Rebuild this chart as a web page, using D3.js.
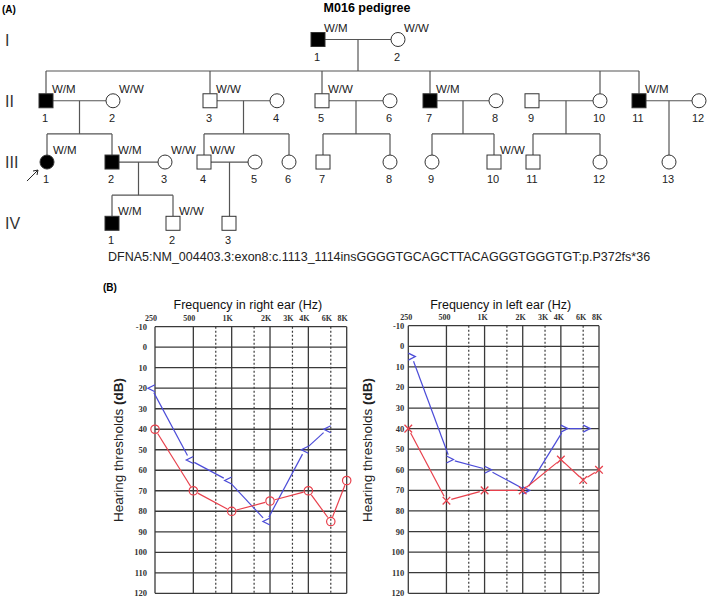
<!DOCTYPE html>
<html><head><meta charset="utf-8">
<script src="https://cdn.jsdelivr.net/npm/d3@7"></script>
<style>body{margin:0;background:#fff}svg{display:block}</style>
</head><body>
<svg id="c" width="709" height="602"></svg>
<script>
// ---------------- DATA ----------------
// Pedigree individuals: generation, number, sex, affected, genotype
const gen1 = [
  {id:"I-1", n:"1", sex:"M", aff:true,  gt:"W/M"},
  {id:"I-2", n:"2", sex:"F", aff:false, gt:"W/W"}
];
const gen2 = [
  {id:"II-1", n:"1", sex:"M", aff:true,  gt:"W/M"},
  {id:"II-2", n:"2", sex:"F", aff:false, gt:"W/W"},
  {id:"II-3", n:"3", sex:"M", aff:false, gt:"W/W"},
  {id:"II-4", n:"4", sex:"F", aff:false, gt:""},
  {id:"II-5", n:"5", sex:"M", aff:false, gt:"W/W"},
  {id:"II-6", n:"6", sex:"F", aff:false, gt:""},
  {id:"II-7", n:"7", sex:"M", aff:true,  gt:"W/M"},
  {id:"II-8", n:"8", sex:"F", aff:false, gt:""},
  {id:"II-9", n:"9", sex:"M", aff:false, gt:""},
  {id:"II-10", n:"10", sex:"F", aff:false, gt:""},
  {id:"II-11", n:"11", sex:"M", aff:true,  gt:"W/M"},
  {id:"II-12", n:"12", sex:"F", aff:false, gt:""}
];
const gen3 = [
  {id:"III-1", n:"1", sex:"F", aff:true,  gt:"W/M", proband:true},
  {id:"III-2", n:"2", sex:"M", aff:true,  gt:"W/M"},
  {id:"III-3", n:"3", sex:"F", aff:false, gt:"W/W"},
  {id:"III-4", n:"4", sex:"M", aff:false, gt:"W/W"},
  {id:"III-5", n:"5", sex:"F", aff:false, gt:""},
  {id:"III-6", n:"6", sex:"F", aff:false, gt:""},
  {id:"III-7", n:"7", sex:"M", aff:false, gt:""},
  {id:"III-8", n:"8", sex:"F", aff:false, gt:""},
  {id:"III-9", n:"9", sex:"F", aff:false, gt:""},
  {id:"III-10", n:"10", sex:"M", aff:false, gt:"W/W"},
  {id:"III-11", n:"11", sex:"M", aff:false, gt:""},
  {id:"III-12", n:"12", sex:"F", aff:false, gt:""},
  {id:"III-13", n:"13", sex:"F", aff:false, gt:""}
];
const gen4 = [
  {id:"IV-1", n:"1", sex:"M", aff:true,  gt:"W/M"},
  {id:"IV-2", n:"2", sex:"M", aff:false, gt:"W/W"},
  {id:"IV-3", n:"3", sex:"M", aff:false, gt:""}
];
// couples and their children
const couples = [
  {a:"I-1",  b:"I-2",  kids:["II-1","II-3","II-5","II-7","II-10","II-11"]},
  {a:"II-1", b:"II-2", kids:["III-1","III-2"]},
  {a:"II-3", b:"II-4", kids:["III-4","III-6"]},
  {a:"II-5", b:"II-6", kids:["III-7","III-8"]},
  {a:"II-7", b:"II-8", kids:["III-9","III-10"]},
  {a:"II-9", b:"II-10", kids:["III-11","III-12"]},
  {a:"II-11", b:"II-12", kids:["III-13"]},
  {a:"III-2", b:"III-3", kids:["IV-1","IV-2"]},
  {a:"III-4", b:"III-5", kids:["IV-3"]}
];
const genNames = ["I","II","III","IV"];
const mutation = "DFNA5:NM_004403.3:exon8:c.1113_1114insGGGGTGCAGCTTACAGGGTGGGTGT:p.P372fs*36";

// Audiogram data
const freqTicks = [250,500,1000,2000,3000,4000,6000,8000];
const freqTickLabels = ["250","500","1K","2K","3K","4K","6K","8K"];
const solidFreqs = [250,500,1000,2000,4000,8000];
const dottedFreqs = [750,1500,3000,6000];
const dbTicks = [-10,0,10,20,30,40,50,60,70,80,90,100,110,120];

const rightAirFreqs  = [250,500,1000,2000,4000,6000,8000];
const rightAir       = [40,70,80,75,70,85,65];
const rightBoneFreqs = [250,500,1000,2000,4000,6000];
const rightBone      = [20,55,65,85,50,40];
const leftAirFreqs   = [250,500,1000,2000,4000,6000,8000];
const leftAir        = [40,75,70,70,55,65,60];
const leftBoneFreqs  = [250,500,1000,2000,4000,6000];
const leftBone       = [5,55,60,70,40,40];

// ---------------- LAYOUT ----------------
const svg = d3.select("#c");
const SANS = "'Liberation Sans', Arial, sans-serif";
const SERIF = "'Liberation Serif', 'Times New Roman', serif";

// pedigree horizontal positions (layout, px)
const posX = {
 "I-1":318,"I-2":398,
 "II-1":46,"II-2":113,"II-3":210,"II-4":277,"II-5":322,"II-6":390,"II-7":430,"II-8":496,
 "II-9":532,"II-10":600,"II-11":639,"II-12":699,
 "III-1":47,"III-2":112,"III-3":165,"III-4":204,"III-5":255,"III-6":289,"III-7":323,
 "III-8":390,"III-9":432,"III-10":494,"III-11":533,"III-12":600,"III-13":669,
 "IV-1":112,"IV-2":173,"IV-3":229
};
const genY = d3.scalePoint().domain(genNames).range([39.5, 223.3]);
const gens = [gen1,gen2,gen3,gen4];
const people = {};
gens.forEach((g,i)=>g.forEach(p=>{p.x=posX[p.id]; p.y=genY(genNames[i]); people[p.id]=p;}));
const H = 7; // half size of symbol

const ped = svg.append("g");
const lineCol = "#555";
function ln(x1,y1,x2,y2){ped.append("line").attr("x1",x1).attr("y1",y1).attr("x2",x2).attr("y2",y2)
  .attr("stroke",lineCol).attr("stroke-width",1.2);}

couples.forEach(c=>{
  const A=people[c.a], B=people[c.b];
  ln(A.x+H, A.y, B.x-H, B.y);
  const mx=(A.x+B.x)/2;
  const kids=c.kids.map(k=>people[k]);
  const ky=kids[0].y;
  if(kids.length===1){
    ln(mx, A.y, mx, ky-H);
  } else {
    const sy = (A.y + ky)/2 + (A.id==="I-1"? 0 : 0);
    const sibY = A.id==="I-1" ? 71 : (A.y + ky)/2 + 2.5;
    ln(mx, A.y, mx, sibY);
    const xs=kids.map(k=>k.x);
    ln(Math.min(...xs), sibY, Math.max(...xs), sibY);
    kids.forEach(k=>ln(k.x, sibY, k.x, k.y-H));
  }
});

Object.values(people).forEach(p=>{
  const fill = p.aff ? "#000" : "#fff";
  if(p.sex==="M"){
    ped.append("rect").attr("x",p.x-H).attr("y",p.y-H).attr("width",2*H).attr("height",2*H)
      .attr("fill",fill).attr("stroke","#333").attr("stroke-width",1);
  } else {
    ped.append("circle").attr("cx",p.x).attr("cy",p.y).attr("r",H)
      .attr("fill",fill).attr("stroke","#333").attr("stroke-width",1);
  }
  ped.append("text").attr("x",p.x-1).attr("y",p.y+21).attr("text-anchor","middle")
    .attr("font-family",SANS).attr("font-size",11).attr("fill","#222").text(p.n);
  if(p.gt){
    ped.append("text").attr("x",p.x+6).attr("y",p.y-8)
      .attr("font-family",SANS).attr("font-size",11.5).attr("fill","#222").text(p.gt);
  }
  if(p.proband){
    ped.append("line").attr("x1",p.x-20).attr("y1",p.y+19).attr("x2",p.x-9).attr("y2",p.y+8)
      .attr("stroke","#222").attr("stroke-width",1);
    ped.append("path").attr("d",`M${p.x-9},${p.y+8} l-5,1 M${p.x-9},${p.y+8} l-1,5`)
      .attr("stroke","#222").attr("stroke-width",1).attr("fill","none");
  }
});
genNames.forEach(g=>{
  ped.append("text").attr("x",5).attr("y",genY(g)+6).attr("font-family",SANS)
    .attr("font-size",16).attr("fill","#333").text(g);
});
svg.append("text").attr("x",2).attr("y",13).attr("font-family",SANS).attr("font-weight","bold")
  .attr("font-size",10).text("(A)");
svg.append("text").attr("x",367).attr("y",12).attr("text-anchor","middle").attr("font-family",SANS)
  .attr("font-weight","bold").attr("font-size",12.5).text("M016 pedigree");
svg.append("text").attr("x",108).attr("y",261).attr("font-family",SANS).attr("font-size",12.5)
  .attr("fill","#222").text(mutation);
svg.append("text").attr("x",103).attr("y",291).attr("font-family",SANS).attr("font-weight","bold")
  .attr("font-size",10).text("(B)");

// ---------------- AUDIOGRAMS ----------------
const RED="#e8404c", BLUE="#4c4cd8";
function audiogram(cfg){
  const g = svg.append("g");
  const x = d3.scaleLog().base(2).domain([250,8000]).range([cfg.x0,cfg.x1]);
  const y = d3.scaleLinear().domain([-10,120]).range([cfg.y0,cfg.y1]);
  const gc="#3a3a3a";
  dbTicks.forEach(d=>g.append("line").attr("x1",cfg.x0).attr("x2",cfg.x1).attr("y1",y(d)).attr("y2",y(d))
    .attr("stroke",gc).attr("stroke-width",1.3));
  solidFreqs.forEach(f=>g.append("line").attr("x1",x(f)).attr("x2",x(f)).attr("y1",cfg.y0).attr("y2",cfg.y1)
    .attr("stroke",gc).attr("stroke-width",1.3));
  dottedFreqs.forEach(f=>g.append("line").attr("x1",x(f)).attr("x2",x(f)).attr("y1",cfg.y0).attr("y2",cfg.y1)
    .attr("stroke",gc).attr("stroke-width",1.2).attr("stroke-dasharray","2,2"));
  freqTicks.forEach((f,i)=>g.append("text").attr("x",x(f)+cfg.labDx).attr("y",cfg.y0-6)
    .attr("text-anchor","middle").attr("font-family",SERIF).attr("font-weight","bold")
    .attr("font-size",8).attr("fill","#333").text(freqTickLabels[i]));
  dbTicks.forEach(d=>g.append("text").attr("x",cfg.x0-cfg.ylabGap).attr("y",y(d)+3)
    .attr("text-anchor","end").attr("font-family",SERIF).attr("font-weight","bold")
    .attr("font-size",8.5).attr("fill","#333").text(d));
  g.append("text").attr("x",(cfg.x0+cfg.x1)/2 - 3).attr("y",309).attr("text-anchor","middle")
    .attr("font-family",SANS).attr("font-size",12.5).attr("fill","#111").text(cfg.title);
  const yt = g.append("text").attr("transform",`translate(${cfg.ytx},450) rotate(-90)`)
    .attr("text-anchor","middle").attr("font-family",SANS).attr("font-size",13.5).attr("fill","#222");
  yt.append("tspan").text("Hearing thresholds ");
  yt.append("tspan").attr("font-weight","bold").text("(dB)");

  function seg(pts, color, gap){
    for(let i=0;i<pts.length-1;i++){
      const [ax,ay]=pts[i],[bx,by]=pts[i+1];
      const L=Math.hypot(bx-ax,by-ay), ux=(bx-ax)/L, uy=(by-ay)/L;
      g.append("line").attr("x1",ax+ux*gap).attr("y1",ay+uy*gap).attr("x2",bx-ux*gap).attr("y2",by-uy*gap)
        .attr("stroke",color).attr("stroke-width",1.2);
    }
  }
  // bone conduction (blue brackets)
  const dir = cfg.boneDir; // -1 for "<", +1 for ">"
  const bpts = cfg.boneF.map((f,i)=>[x(f)+dir*3.5, y(cfg.bone[i])]);
  seg(bpts, BLUE, 5);
  cfg.boneF.forEach((f,i)=>{
    const fx=x(f), fy=y(cfg.bone[i]);
    const tip = fx + dir*7;
    g.append("path").attr("d",`M${fx},${fy-3.5} L${tip},${fy} L${fx},${fy+3.5}`)
      .attr("fill","none").attr("stroke",BLUE).attr("stroke-width",1.3);
  });
  // air conduction (red)
  const apts = cfg.airF.map((f,i)=>[x(f), y(cfg.air[i])]);
  seg(apts, RED, 5);
  cfg.airF.forEach((f,i)=>{
    const fx=x(f), fy=y(cfg.air[i]);
    if(cfg.airMark==="O"){
      g.append("circle").attr("cx",fx).attr("cy",fy).attr("r",4.2)
        .attr("fill","none").attr("stroke",RED).attr("stroke-width",1.2);
    } else {
      g.append("path").attr("d",`M${fx-3.8},${fy-3.8} L${fx+3.8},${fy+3.8} M${fx-3.8},${fy+3.8} L${fx+3.8},${fy-3.8}`)
        .attr("stroke",RED).attr("stroke-width",1.3);
    }
  });
}
audiogram({x0:155,x1:346.7,y0:326.7,y1:593.3,labDx:-4,ylabGap:8,ytx:123,
  title:"Frequency in right ear (Hz)", boneF:rightBoneFreqs, bone:rightBone, boneDir:-1,
  airF:rightAirFreqs, air:rightAir, airMark:"O"});
audiogram({x0:408.3,x1:599,y0:325.7,y1:593.3,labDx:-2,ylabGap:4,ytx:372,
  title:"Frequency in left ear (Hz)", boneF:leftBoneFreqs, bone:leftBone, boneDir:1,
  airF:leftAirFreqs, air:leftAir, airMark:"X"});
</script>
</body></html>
